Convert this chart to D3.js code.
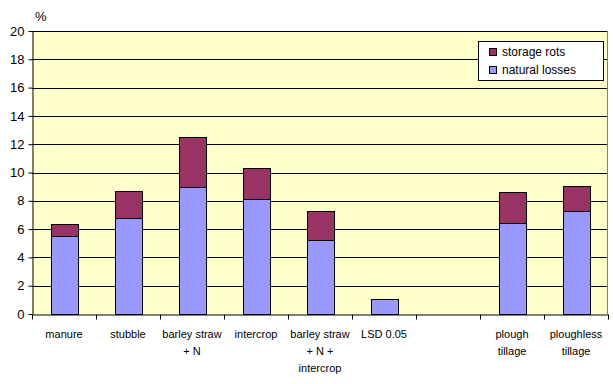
<!DOCTYPE html>
<html>
<head>
<meta charset="utf-8">
<script src="https://cdn.jsdelivr.net/npm/d3@7"></script>
<style>
  body { margin: 0; background: #fff; }
  svg { font-family: "Liberation Sans", Arial, sans-serif; }
</style>
</head>
<body>
<svg width="613" height="384"></svg>
<script>
var categories = ["manure", "stubble", "barley straw|+ N", "intercrop", "barley straw|+ N +|intercrop", "LSD 0.05", "", "plough|tillage", "ploughless|tillage"];
var naturalLosses = [5.5, 6.75, 8.95, 8.1, 5.2, 1.05, 0, 6.4, 7.25];
var storageRots = [0.85, 1.95, 3.55, 2.2, 2.05, 0, 0, 2.25, 1.8];
var seriesNames = ["natural losses", "storage rots"];
var colors = {"natural losses": "#9999ff", "storage rots": "#993366"};
var yTicks = [0, 2, 4, 6, 8, 10, 12, 14, 16, 18, 20];

var margin = {top: 31, right: 5, bottom: 70, left: 32},
    width = 613 - margin.left - margin.right,
    height = 384 - margin.top - margin.bottom;

var svg = d3.select("svg").append("g")
    .attr("transform", "translate(" + margin.left + "," + margin.top + ")");

var x = d3.scaleBand()
    .domain(d3.range(categories.length))
    .range([0, width]);

var y = d3.scaleLinear()
    .domain([0, 20])
    .range([height, 0]);

// plot background
svg.append("rect")
    .attr("width", width)
    .attr("height", height)
    .attr("fill", "#ffffcc");

// gridlines
svg.selectAll(".grid")
    .data(yTicks.slice(1))
    .enter().append("line")
    .attr("x1", 0)
    .attr("x2", width)
    .attr("y1", function(d) { return Math.round(y(d)) + 0.5; })
    .attr("y2", function(d) { return Math.round(y(d)) + 0.5; })
    .attr("stroke", "#000")
    .attr("stroke-width", 1);

// right border
svg.append("line")
    .attr("x1", width - 0.5).attr("x2", width - 0.5)
    .attr("y1", 0).attr("y2", height)
    .attr("stroke", "#808080");

var data = categories.map(function(c, i) {
  return {i: i, "natural losses": naturalLosses[i], "storage rots": storageRots[i]};
});
var stacked = d3.stack().keys(seriesNames)(data);

var bw = x.bandwidth() * 0.42;
svg.selectAll(".series")
    .data(stacked)
    .enter().append("g")
    .attr("fill", function(d) { return colors[d.key]; })
  .selectAll("rect")
    .data(function(d) { return d.filter(function(p) { return p[1] - p[0] > 0; }); })
    .enter().append("rect")
    .attr("x", function(d) { return Math.round(x(d.data.i) + (x.bandwidth() - bw) / 2) + 0.5; })
    .attr("width", Math.round(bw))
    .attr("y", function(d) { return Math.round(y(d[1])) + 0.5; })
    .attr("height", function(d) { return Math.round(y(d[0])) - Math.round(y(d[1])); })
    .attr("stroke", "#000")
    .attr("stroke-width", 1);

// y axis
var yAxis = svg.append("g")
    .attr("transform", "translate(0.5,0)")
    .call(d3.axisLeft(y).tickValues(yTicks).tickSize(4).tickSizeOuter(0).tickPadding(4));
yAxis.select(".domain").attr("stroke", "#000");
yAxis.selectAll(".tick line").attr("stroke", "#000");
yAxis.selectAll(".tick text").attr("font-size", "13px").attr("fill", "#000")
    .attr("font-family", "Liberation Sans, Arial, sans-serif");

// x axis
var xAxis = svg.append("g")
    .attr("transform", "translate(0," + (height + 0.5) + ")")
    .call(d3.axisBottom(d3.scaleLinear().domain([0, categories.length]).range([0, width]))
      .tickValues(d3.range(categories.length + 1)).tickSize(5).tickSizeOuter(0).tickFormat(""));
xAxis.select(".domain").attr("stroke", "#000");
xAxis.selectAll(".tick line").attr("stroke", "#000");

// category labels
var labels = svg.selectAll(".cat")
    .data(categories)
    .enter().append("text")
    .attr("class", "cat")
    .attr("text-anchor", "middle")
    .attr("font-size", "11px")
    .attr("fill", "#000")
    .attr("transform", function(d, i) { return "translate(" + (x(i) + x.bandwidth() / 2) + "," + (height + 24) + ")"; });
labels.selectAll("tspan")
    .data(function(d) { return d.split("|"); })
    .enter().append("tspan")
    .attr("x", 0)
    .attr("y", function(d, j) { return j * 17; })
    .text(function(d) { return d; });

// % label
svg.append("text")
    .attr("x", 3)
    .attr("y", -10)
    .attr("font-size", "13px")
    .text("%");

// legend
var legend = svg.append("g")
    .attr("transform", "translate(" + (478 - margin.left) + "," + (41 - margin.top) + ")");
legend.append("rect")
    .attr("x", 0.5).attr("y", 0.5)
    .attr("width", 125).attr("height", 39)
    .attr("fill", "#fff")
    .attr("stroke", "#000");
var legendItems = ["storage rots", "natural losses"];
legendItems.forEach(function(k, i) {
  legend.append("rect")
    .attr("x", 11.5).attr("y", 7.5 + i * 18)
    .attr("width", 7).attr("height", 7)
    .attr("fill", colors[k])
    .attr("stroke", "#000");
  legend.append("text")
    .attr("x", 24).attr("y", 15 + i * 18)
    .attr("font-size", "12px")
    .text(k);
});
</script>
</body>
</html>
